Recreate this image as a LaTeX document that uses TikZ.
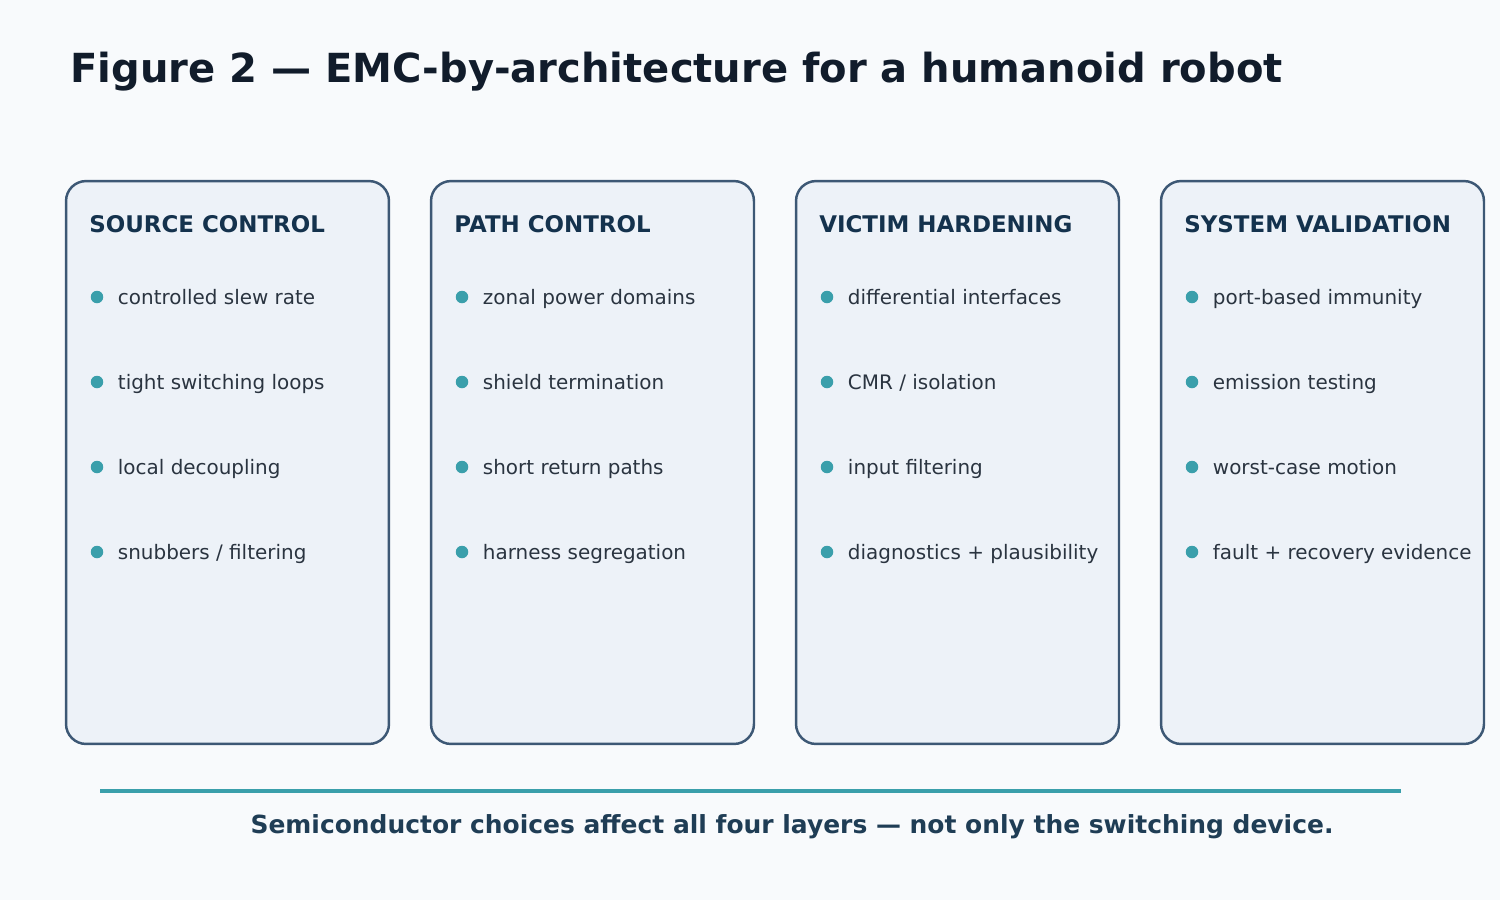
\documentclass[tikz,border=0pt]{standalone}
\usepackage{fontspec}
\setmainfont{DejaVu Sans}
\usepackage{xcolor}
\usetikzlibrary{positioning}
\definecolor{bgpage}{RGB}{248,250,252}
\definecolor{boxfill}{RGB}{237,242,248}
\definecolor{boxline}{RGB}{61,88,117}
\definecolor{headcol}{RGB}{20,50,77}
\definecolor{itemcol}{RGB}{42,52,64}
\definecolor{titlecol}{RGB}{17,28,43}
\definecolor{tealdot}{RGB}{58,159,171}
\definecolor{footcol}{RGB}{31,61,85}

\begin{document}
\begin{tikzpicture}[x=0.02cm,y=-0.02cm]

	\tikzstyle{layer} = [rectangle, draw=boxline, fill=boxfill, line width=1.4pt, rounded corners=0.4cm, minimum width=6.46cm, minimum height=11.26cm]
	\tikzstyle{head} = [anchor=west, inner sep=0pt, text=headcol, font=\fontsize{13.05}{15}\selectfont\bfseries]
	\tikzstyle{dot} = [circle, fill=tealdot, inner sep=0pt, minimum size=0.25cm]
	\tikzstyle{item} = [inner sep=0pt, text height=0.55em, text depth=0pt, yshift=-0.06cm, text=itemcol, font=\fontsize{11.35}{13}\selectfont]

	% background
	\fill [bgpage] (0,0) rectangle (1500,900);

	% title
	\node [anchor=west, inner sep=0pt, text=titlecol, font=\fontsize{22.8}{27}\selectfont\bfseries] (title) at (70,72) {Figure 2 --- EMC-by-architecture for a humanoid robot};

	% source control
	\node [layer] (l1) at (227.5,462.5) {};
	\node [head] (l1h) at (89,224) {SOURCE CONTROL};
	\node [dot] (l1d1) at (97,297) {};
	\node [item,right=0.28cm of l1d1] (l1t1) {controlled slew rate};
	\node [dot] (l1d2) at (97,382) {};
	\node [item,right=0.28cm of l1d2] (l1t2) {tight switching loops};
	\node [dot] (l1d3) at (97,467) {};
	\node [item,right=0.28cm of l1d3] (l1t3) {local decoupling};
	\node [dot] (l1d4) at (97,552) {};
	\node [item,right=0.28cm of l1d4] (l1t4) {snubbers / filtering};

	% path control
	\node [layer] (l2) at (592.5,462.5) {};
	\node [head] (l2h) at (454,224) {PATH CONTROL};
	\node [dot] (l2d1) at (462,297) {};
	\node [item,right=0.28cm of l2d1] (l2t1) {zonal power domains};
	\node [dot] (l2d2) at (462,382) {};
	\node [item,right=0.28cm of l2d2] (l2t2) {shield termination};
	\node [dot] (l2d3) at (462,467) {};
	\node [item,right=0.28cm of l2d3] (l2t3) {short return paths};
	\node [dot] (l2d4) at (462,552) {};
	\node [item,right=0.28cm of l2d4] (l2t4) {harness segregation};

	% victim hardening
	\node [layer] (l3) at (957.5,462.5) {};
	\node [head] (l3h) at (819,224) {VICTIM HARDENING};
	\node [dot] (l3d1) at (827,297) {};
	\node [item,right=0.28cm of l3d1] (l3t1) {differential interfaces};
	\node [dot] (l3d2) at (827,382) {};
	\node [item,right=0.28cm of l3d2] (l3t2) {CMR / isolation};
	\node [dot] (l3d3) at (827,467) {};
	\node [item,right=0.28cm of l3d3] (l3t3) {input filtering};
	\node [dot] (l3d4) at (827,552) {};
	\node [item,right=0.28cm of l3d4] (l3t4) {diagnostics + plausibility};

	% system validation
	\node [layer] (l4) at (1322.5,462.5) {};
	\node [head] (l4h) at (1184,224) {SYSTEM VALIDATION};
	\node [dot] (l4d1) at (1192,297) {};
	\node [item,right=0.28cm of l4d1] (l4t1) {port-based immunity};
	\node [dot] (l4d2) at (1192,382) {};
	\node [item,right=0.28cm of l4d2] (l4t2) {emission testing};
	\node [dot] (l4d3) at (1192,467) {};
	\node [item,right=0.28cm of l4d3] (l4t3) {worst-case motion};
	\node [dot] (l4d4) at (1192,552) {};
	\node [item,right=0.28cm of l4d4] (l4t4) {fault + recovery evidence};

	% footer
	\coordinate (rulel) at (100,791);
	\coordinate (ruler) at (1401,791);
	\draw [tealdot, line width=2.8pt] (rulel) -- (ruler);
	\node [inner sep=0pt, text=footcol, font=\fontsize{14.2}{17}\selectfont\bfseries] (foot) at (792,827) {Semiconductor choices affect all four layers --- not only the switching device.};

\end{tikzpicture}
\end{document}
